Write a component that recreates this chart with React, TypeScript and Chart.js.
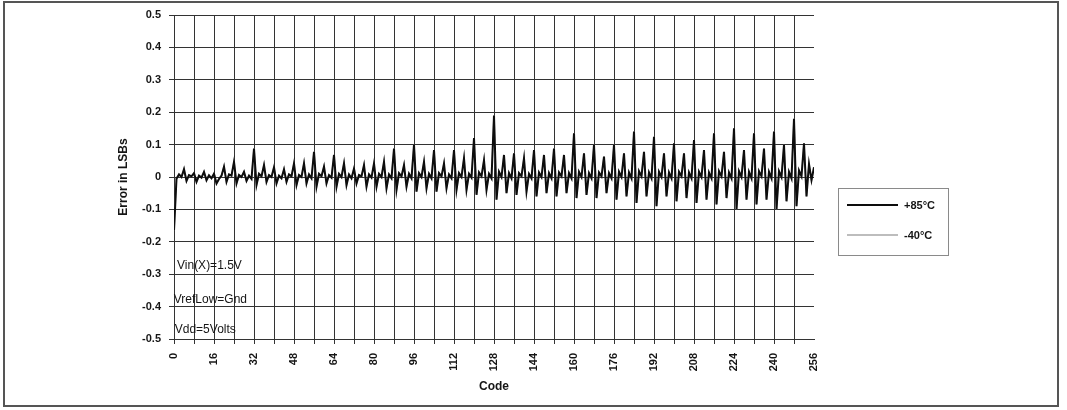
import React, { useEffect, useRef } from 'react';
import { Chart, registerables } from 'chart.js';

Chart.register(...registerables);

// Codes 0..256 (x categories)
const codes: number[] = Array.from({ length: 257 }, (_, i) => i);

// Error in LSBs, +85°C (4 codes per row)
const errPlus85: number[] = [
  -0.165, -0.005, 0.008, 0.0,
  0.024, -0.012, 0.006, 0.002,
  0.012, -0.015, 0.004, -0.002,
  0.016, -0.01, 0.005, -0.004,
  0.01, -0.02, -0.006, 0.004,
  0.032, -0.015, 0.008, 0.004,
  0.047, -0.02, 0.006, 0.0,
  0.016, -0.012, 0.004, -0.006,
  0.088, -0.025, 0.01, 0.002,
  0.037, -0.015, 0.006, 0.0,
  0.03, -0.02, 0.004, -0.004,
  0.024, -0.015, 0.008, 0.002,
  0.042, -0.025, 0.006, 0.0,
  0.042, -0.02, 0.008, -0.004,
  0.078, -0.03, 0.01, 0.002,
  0.032, -0.02, 0.006, -0.002,
  0.068, -0.03, 0.01, 0.0,
  0.042, -0.025, 0.008, -0.004,
  0.026, -0.02, 0.006, 0.002,
  0.037, -0.03, 0.008, -0.002,
  0.042, -0.03, 0.01, 0.0,
  0.047, -0.035, 0.008, -0.004,
  0.088, -0.04, 0.012, 0.002,
  0.037, -0.03, 0.01, -0.004,
  0.099, -0.045, 0.012, 0.0,
  0.047, -0.035, 0.01, -0.004,
  0.083, -0.045, 0.012, 0.002,
  0.042, -0.035, 0.008, -0.004,
  0.083, -0.04, 0.012, 0.0,
  0.058, -0.04, 0.01, -0.002,
  0.12, -0.055, 0.014, 0.002,
  0.052, -0.04, 0.01, -0.004,
  0.19, -0.07, 0.016, 0.0,
  0.068, -0.05, 0.012, -0.004,
  0.073, -0.055, 0.012, 0.002,
  0.058, -0.045, 0.01, -0.004,
  0.083, -0.06, 0.014, 0.0,
  0.068, -0.05, 0.012, -0.004,
  0.088, -0.06, 0.014, 0.002,
  0.068, -0.05, 0.012, -0.004,
  0.135, -0.065, 0.016, 0.0,
  0.073, -0.055, 0.012, -0.004,
  0.099, -0.065, 0.014, 0.002,
  0.063, -0.05, 0.012, -0.004,
  0.099, -0.07, 0.016, 0.0,
  0.073, -0.06, 0.014, -0.004,
  0.14, -0.08, 0.018, 0.002,
  0.078, -0.06, 0.014, -0.004,
  0.124, -0.09, 0.016, 0.0,
  0.073, -0.06, 0.014, -0.004,
  0.104, -0.075, 0.016, 0.002,
  0.073, -0.065, 0.014, -0.004,
  0.114, -0.08, 0.016, 0.0,
  0.083, -0.07, 0.014, -0.004,
  0.135, -0.085, 0.018, 0.002,
  0.078, -0.065, 0.014, -0.004,
  0.15, -0.1, 0.018, 0.0,
  0.083, -0.07, 0.016, -0.004,
  0.135, -0.085, 0.018, 0.002,
  0.088, -0.07, 0.016, -0.004,
  0.14, -0.1, 0.018, 0.0,
  0.099, -0.075, 0.016, -0.004,
  0.18, -0.09, 0.02, 0.002,
  0.104, -0.06, 0.04, -0.01,
  0.03,
];

// -40°C series lies underneath the +85°C trace (not separately visible)
const errMinus40: number[] = errPlus85;

const seriesLabels = ['+85°C', '-40°C'];
const seriesColors = ['#0d0d0d', '#bdbdbd'];

const yTickValues: number[] = [0.5, 0.4, 0.3, 0.2, 0.1, 0, -0.1, -0.2, -0.3, -0.4, -0.5];
const xLabelStep = 16;

const noteTexts = ['Vin(X)=1.5V', 'VrefLow=Gnd', 'Vdd=5Volts'];
const noteCodes = [1.2, -0.1, 0.3];
const noteValues = [-0.275, -0.38, -0.47];

const FONT = '"Liberation Sans", Arial, sans-serif';
const GRID = '#333333';
const TEXT = '#151515';

const overlayPlugin = {
  id: 'overlay',
  afterDraw(chart: any) {
    const { ctx, chartArea, scales } = chart;
    ctx.save();
    // notes
    ctx.font = `12px ${FONT}`;
    ctx.fillStyle = TEXT;
    ctx.textBaseline = 'middle';
    ctx.textAlign = 'left';
    noteTexts.forEach((t, i) => {
      ctx.fillText(t, scales.x.getPixelForValue(noteCodes[i]), scales.y.getPixelForValue(noteValues[i]));
    });
    // legend
    const bx = chartArea.right + 24;
    const by = 188;
    const bw = 110;
    const bh = 67;
    ctx.strokeStyle = '#8a8a8a';
    ctx.lineWidth = 1;
    ctx.strokeRect(bx + 0.5, by + 0.5, bw, bh);
    seriesLabels.forEach((lab, i) => {
      const yy = by + 17 + i * 30;
      ctx.strokeStyle = seriesColors[i];
      ctx.lineWidth = 2;
      ctx.beginPath();
      ctx.moveTo(bx + 9, yy);
      ctx.lineTo(bx + 60, yy);
      ctx.stroke();
      ctx.fillStyle = TEXT;
      ctx.font = `bold 11px ${FONT}`;
      ctx.fillText(lab, bx + 66, yy + 1);
    });
    ctx.restore();
  },
};

export default function App() {
  const ref = useRef<HTMLCanvasElement | null>(null);

  useEffect(() => {
    if (!ref.current) return;
    const chart = new Chart(ref.current, {
      type: 'line',
      data: {
        labels: codes,
        datasets: [
          {
            label: seriesLabels[0],
            data: errPlus85,
            borderColor: seriesColors[0],
            borderWidth: 2,
            pointRadius: 0,
            tension: 0,
          },
          {
            label: seriesLabels[1],
            data: errMinus40,
            borderColor: seriesColors[1],
            borderWidth: 1.5,
            pointRadius: 0,
            tension: 0,
          },
        ],
      },
      options: {
        animation: false,
        responsive: false,
        devicePixelRatio: 1,
        layout: { padding: { left: 0, top: 15, right: 253, bottom: 0 } },
        plugins: { legend: { display: false }, tooltip: { enabled: false } },
        scales: {
          x: {
            type: 'linear',
            min: 0,
            max: 256,
            ticks: {
              stepSize: 8,
              autoSkip: false,
              minRotation: 90,
              maxRotation: 90,
              padding: 9,
              color: TEXT,
              font: { family: FONT, size: 11, weight: 'bold' },
              callback: (v: any) => (Number(v) % xLabelStep === 0 ? String(v) : ''),
            },
            grid: {
              color: (c: any) => (c.tick && c.tick.value === 256 ? 'rgba(0,0,0,0)' : GRID),
              tickLength: 5,
              lineWidth: 1,
            },
            border: { color: GRID, width: 1 },
            title: {
              display: true,
              text: 'Code',
              color: TEXT,
              font: { family: FONT, size: 12, weight: 'bold' },
              padding: { top: 0, bottom: 16 },
            },
            afterFit: (s: any) => {
              s.height = 71;
            },
          },
          y: {
            type: 'linear',
            min: -0.5,
            max: 0.5,
            afterBuildTicks: (s: any) => {
              s.ticks = yTickValues.map((v) => ({ value: v }));
            },
            ticks: {
              padding: 8,
              color: TEXT,
              font: { family: FONT, size: 11, weight: 'bold' },
              callback: (v: any) => (Math.abs(Number(v)) < 1e-9 ? '0' : Number(v).toFixed(1)),
            },
            grid: { color: GRID, tickLength: 5, lineWidth: 1 },
            border: { color: GRID, width: 1 },
            title: {
              display: true,
              text: 'Error in LSBs',
              color: TEXT,
              font: { family: FONT, size: 12, weight: 'bold' },
              padding: { top: 116, bottom: 0 },
            },
            afterFit: (s: any) => {
              s.width = 174;
            },
          },
        },
      },
      plugins: [overlayPlugin],
    });
    return () => chart.destroy();
  }, []);

  return (
    <div style={{ position: 'fixed', left: 0, top: 0, width: 1067, height: 410, background: '#fff' }}>
      <div
        style={{
          position: 'absolute',
          left: 3,
          top: 1,
          width: 1056,
          height: 406,
          border: '2px solid #555',
          boxSizing: 'border-box',
        }}
      />
      <canvas ref={ref} width={1067} height={410} style={{ position: 'absolute', left: 0, top: 0, width: 1067, height: 410 }} />
    </div>
  );
}
